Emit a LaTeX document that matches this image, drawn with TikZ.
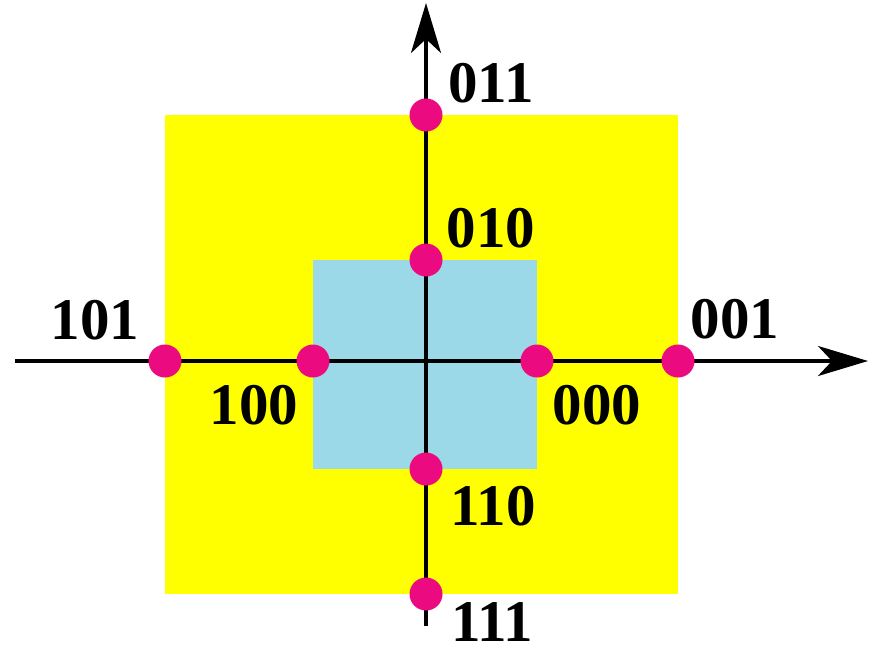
\documentclass[tikz,border=0pt]{standalone}
\usepackage{fontspec}
\setmainfont{Liberation Serif}
\usepackage{xcolor}
\usetikzlibrary{arrows.meta,positioning}
\definecolor{CodeYellow}{HTML}{FFFF00}
\definecolor{CodeBlue}{HTML}{9BD9E8}
\definecolor{DotPink}{HTML}{EC0A80}
\tikzset{
  dot/.style={circle, fill=DotPink, inner sep=0pt, minimum size=33pt},
  code/.style={font=\fontsize{59}{62}\selectfont\bfseries, inner sep=0pt},
  axis/.style={-{Stealth[length=50pt, width=30pt, inset=14pt]}, line width=3.6pt, black}
}

\begin{document}
\begin{tikzpicture}[x=1pt, y=-1pt]
\useasboundingbox (0,0) rectangle (876,649);
\fill[CodeYellow] (165,115) rectangle (678,594);
\fill[CodeBlue] (313,260) rectangle (537,469);

\coordinate (west) at (15,361);
\coordinate (east) at (868,361);
\coordinate (south) at (426,626);
\coordinate (north) at (426,3);
\draw[axis] (west) -- (east);
\draw[axis] (south) -- (north);

\node[dot] (d011) at (426,115) {};
\node[dot] (d010) at (426,260) {};
\node[dot] (d110) at (426,469) {};
\node[dot] (d111) at (426,594) {};
\node[dot] (d101) at (165,361) {};
\node[dot] (d100) at (313,361) {};
\node[dot] (d000) at (537,361) {};
\node[dot] (d001) at (678,361) {};

\node[code] (l011) at (491,83) {011};
\node[code] (l010) at (491,228) {010};
\node[code] (l110) at (493,506) {110};
\node[code] (l111) at (492,622) {111};
\node[code] (l101) at (95,320) {101};
\node[code] (l100) at (254,405) {100};
\node[code] (l000) at (597,405) {000};
\node[code] (l001) at (735,319) {001};
\end{tikzpicture}
\end{document}
